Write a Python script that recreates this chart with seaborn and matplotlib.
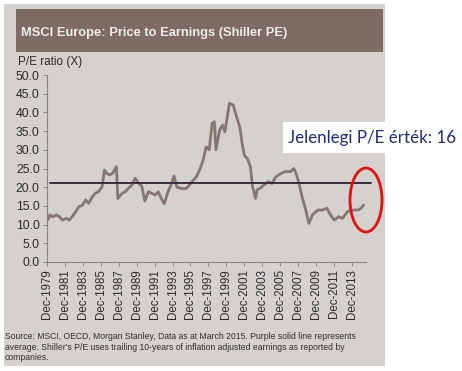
import matplotlib
matplotlib.use("Agg")
import matplotlib.pyplot as plt
from matplotlib.patches import Rectangle, Ellipse
import pandas as pd
import seaborn as sns

# ---- data ----
dates = [
    "1979-12", "1980-02", "1980-04", "1980-08", "1981-01", "1981-05", "1981-09",
    "1982-02", "1982-06", "1982-10", "1983-03", "1983-07", "1983-12", "1984-04",
    "1984-08", "1985-01", "1985-05", "1985-09", "1986-02", "1986-05", "1986-08",
    "1986-12", "1987-04", "1987-09", "1987-11", "1988-05", "1988-09", "1989-01",
    "1989-06", "1989-10", "1990-03", "1990-07", "1990-11", "1991-04", "1991-08",
    "1992-01", "1992-05", "1992-09", "1993-01", "1993-06", "1993-10", "1994-02",
    "1994-06", "1995-01", "1995-07", "1996-02", "1996-08", "1997-01", "1997-05",
    "1997-09", "1998-01", "1998-05", "1998-08", "1998-10", "1999-03", "1999-07",
    "1999-10", "2000-04", "2000-09", "2001-02", "2001-06", "2001-09", "2001-12",
    "2002-04", "2002-08", "2002-11", "2003-03", "2003-05", "2003-09", "2004-02",
    "2004-08", "2005-01", "2005-06", "2006-01", "2006-07", "2007-02", "2007-06",
    "2007-09", "2008-01", "2008-05", "2008-10", "2009-02", "2009-07", "2010-02",
    "2010-09", "2011-02", "2011-07", "2011-12", "2012-06", "2012-11", "2013-06",
    "2014-01", "2014-08", "2014-12", "2015-03",
]
pe_values = [
    12.0, 11.4, 12.6, 12.1, 12.6, 12.1, 11.2,
    11.7, 11.2, 12.1, 13.5, 14.8, 15.2, 16.6,
    15.7, 17.5, 18.4, 18.8, 20.1, 24.6, 23.7,
    23.3, 23.7, 25.5, 17.0, 18.4, 18.8, 19.7,
    20.6, 22.4, 21.0, 20.3, 16.3, 18.8, 18.4,
    17.9, 18.8, 17.0, 15.6, 18.8, 20.6, 23.0,
    20.0, 19.6, 19.7, 21.5, 22.8, 25.0, 27.3,
    30.8, 30.0, 37.1, 37.5, 30.0, 35.3, 36.6,
    34.8, 42.4, 42.0, 38.5, 36.0, 31.7, 28.5,
    27.7, 25.5, 20.1, 17.0, 19.3, 19.7, 20.6,
    21.5, 21.0, 22.8, 23.7, 24.2, 24.2, 25.0,
    23.7, 21.0, 17.5, 13.9, 10.3, 12.6, 13.9,
    13.9, 14.4, 12.6, 11.2, 12.1, 11.7, 13.5,
    13.9, 13.9, 14.4, 15.2,
]
average_pe = 21.0
tick_years = list(range(1979, 2014, 2))
tick_labels = [f"Dec-{y}" for y in tick_years]
y_ticks = [0, 5, 10, 15, 20, 25, 30, 35, 40, 45, 50]

title = "MSCI Europe: Price to Earnings (Shiller PE)"
ylabel = "P/E ratio (X)"
note = ("Source: MSCI, OECD, Morgan Stanley, Data as at March 2015. Purple solid line represents\n"
        "average. Shiller's P/E uses trailing 10-years of inflation adjusted earnings as reported by\n"
        "companies.")
callout = "Jelenlegi P/E érték: 16"

df = pd.DataFrame({"date": pd.to_datetime(dates), "pe": pe_values})

# ---- figure ----
sns.set_theme(style="white")
plt.rcParams["font.family"] = ["Liberation Sans", "DejaVu Sans"]
W, H = 462, 371
fig = plt.figure(figsize=(W / 100, H / 100), dpi=100, facecolor="white")

def fx(px):
    return px / W

def fy(py):
    return 1 - py / H

# paper background
fig.patches.append(Rectangle((fx(4), fy(366)), fx(385 - 4), (366 - 4) / H,
                             transform=fig.transFigure, facecolor="#d5d1ce",
                             edgecolor="none", zorder=-2))
# title bar
fig.patches.append(Rectangle((fx(16), fy(52)), fx(383 - 16), (52 - 9) / H,
                             transform=fig.transFigure, facecolor="#7e6b64",
                             edgecolor="none", zorder=-1))
fig.text(fx(21), fy(33), title, color="#f1ecea", fontsize=9.3, fontweight="bold",
         va="center", ha="left")
fig.text(fx(18), fy(62), ylabel, color="#2b2b2b", fontsize=8.5, va="center", ha="left")

ax = fig.add_axes([fx(46.7), fy(262), fx(366 - 46.7), (262 - 75) / H])
ax.set_facecolor("none")
ax.set_zorder(2)
sns.lineplot(data=df, x="date", y="pe", ax=ax, color="#857672", linewidth=2.0)

x0 = pd.Timestamp("1979-12-01")
x1 = pd.Timestamp("2015-06-15")
ax.set_xlim(x0, x1)
ax.set_ylim(0, 50)
ax.plot([pd.Timestamp("1980-05-01"), pd.Timestamp("2016-01-01")], [average_pe, average_pe],
        color="#3b2b3f", linewidth=1.4, clip_on=False, zorder=3)

ax.set_xticks([pd.Timestamp(f"{y}-12-01") for y in tick_years])
ax.set_xticklabels(tick_labels, rotation=90, fontsize=8.3, color="#2b2b2b")
ax.set_yticks(y_ticks)
ax.set_yticklabels([f"{v:.1f}" for v in y_ticks], fontsize=8.8, color="#2b2b2b")
ax.set_xlabel("")
ax.set_ylabel("")
for s in ["top", "right"]:
    ax.spines[s].set_visible(False)
for s in ["left", "bottom"]:
    ax.spines[s].set_color("#8a8584")
    ax.spines[s].set_linewidth(0.8)
ax.tick_params(axis="both", which="major", length=3, width=0.7, color="#8a8584",
               direction="out", pad=2, bottom=True, left=True)

fig.text(fx(5), fy(347), note, fontsize=6.25, color="#2f2f2f", va="center", ha="left",
         linespacing=1.25)

# callout box and text
fig.patches.append(Rectangle((fx(283), fy(153)), fx(462 - 283), (153 - 122) / H,
                             transform=fig.transFigure, facecolor="white",
                             edgecolor="none", zorder=5))
fig.text(fx(288), fy(138), callout, fontsize=12.2, color="#1f2a78", va="center",
         ha="left", family=["Lato", "DejaVu Sans"], zorder=6)

# red ellipse
fig.patches.append(Ellipse((fx(366), fy(200)), fx(32), 64 / H, transform=fig.transFigure,
                           facecolor="none", edgecolor="#e01010", linewidth=2.0, zorder=6))

fig.savefig("out.png", dpi=100, facecolor="white")
